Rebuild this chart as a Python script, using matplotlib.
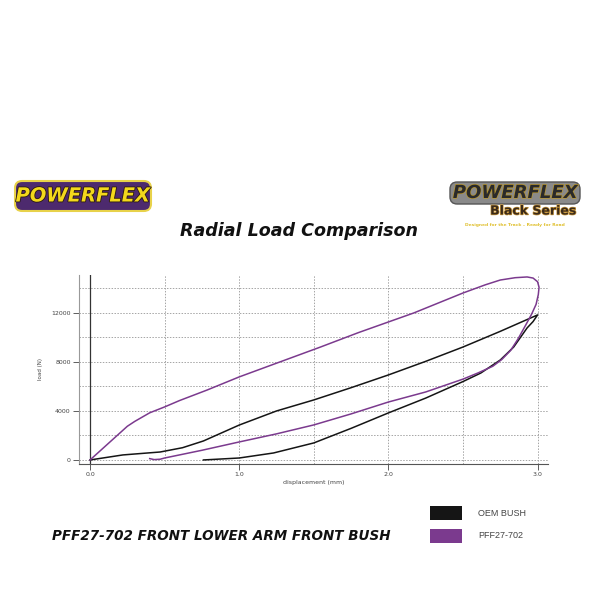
import matplotlib
matplotlib.use("Agg")
import matplotlib.pyplot as plt
import matplotlib.patheffects as pe
from matplotlib.patches import FancyBboxPatch, Rectangle

# ---- data ----
pff_x = [0.0, 0.1, 0.2, 0.25, 0.3, 0.35, 0.4, 0.5, 0.6, 0.785, 1.0, 1.25, 1.545, 1.8, 2.17, 2.5,
         2.65, 2.75, 2.85, 2.93, 2.97, 3.0, 3.01, 3.005, 2.99, 2.96, 2.92, 2.87, 2.82, 2.76, 2.7, 2.6,
         2.5, 2.25, 2.0, 1.75, 1.5, 1.25, 1.0, 0.75, 0.5, 0.47, 0.43, 0.40]
pff_y = [0, 1100, 2200, 2750, 3150, 3500, 3850, 4330, 4850, 5710, 6780, 7900, 9220, 10400, 12000, 13630,
         14300, 14690, 14880, 14940, 14850, 14550, 14100, 13500, 12700, 11900, 11000, 9900, 8950, 8200, 7650, 7100,
         6600, 5550, 4730, 3760, 2860, 2130, 1470, 790, 160, 60, 30, 110]

oem_x = [0.0, 0.22, 0.47, 0.62, 0.76, 1.0, 1.25, 1.5, 1.75, 2.0, 2.25, 2.5, 2.75, 3.0,
         2.97, 2.93, 2.84, 2.75, 2.62, 2.5, 2.25, 2.0, 1.75, 1.5, 1.23, 1.0, 0.76]
oem_y = [0, 410, 650, 1000, 1550, 2850, 4000, 4900, 5900, 6940, 8050, 9220, 10500, 11840,
         11300, 10780, 9220, 8160, 7100, 6400, 5050, 3840, 2580, 1390, 570, 160, 0]

series_labels = ["OEM BUSH", "PFF27-702"]
series_colors = ["#151515", "#7b3a8e"]
x_ticks = [0.0, 1.0, 2.0, 3.0]
x_tick_labels = ["0.0", "1.0", "2.0", "3.0"]
y_ticks = [0, 4000, 8000, 12000]

fig = plt.figure(figsize=(6, 6), dpi=100)
fig.patch.set_facecolor("white")

ax = fig.add_axes([79/600, 1-464/600, 469/600, 189/600])
ax.set_xlim(-0.074, 3.07)
ax.set_ylim(-330, 15100)

grid_kw = dict(color="#a5a5a5", lw=0.7, ls=(0, (1.5, 1.5)), zorder=1)
for gx in [0.5, 1.0, 1.5, 2.0, 2.5, 3.0]:
    ax.axvline(gx, **grid_kw)
for gy in range(0, 15000, 2000):
    ax.axhline(gy, **grid_kw)
ax.axvline(0, color="#333333", lw=0.9, zorder=2)

ax.plot(oem_x, oem_y, color=series_colors[0], lw=1.1, zorder=3, solid_joinstyle="round")
ax.plot(pff_x, pff_y, color=series_colors[1], lw=1.1, zorder=4, solid_joinstyle="round")

for s in ["top", "right"]:
    ax.spines[s].set_visible(False)
ax.spines["left"].set_color("#999999")
ax.spines["left"].set_linewidth(0.8)
ax.spines["bottom"].set_color("#555555")
ax.spines["bottom"].set_linewidth(0.8)

ax.set_xticks(x_ticks)
ax.set_xticklabels(x_tick_labels)
ax.set_yticks(y_ticks)
ax.set_yticklabels([str(v) for v in y_ticks])
ax.tick_params(axis="both", labelsize=4.5, colors="#444444", length=4, width=0.6, pad=2)
ax.set_ylabel("load (N)", fontsize=4, color="#444444", labelpad=6)
ax.set_xlabel("displacement (mm)", fontsize=4.5, color="#444444", labelpad=2)

# ---- titles and logos ----
fig.text(299/600, 1-231/600, "Radial Load Comparison", ha="center", va="center",
         fontsize=12.6, fontweight="heavy", fontstyle="italic", family="DejaVu Sans", color="#111111")

fig.text(52/600, 1-536/600, "PFF27-702 FRONT LOWER ARM FRONT BUSH", ha="left", va="center",
         fontsize=9.75, fontweight="heavy", fontstyle="italic", family="DejaVu Sans", color="#111111")

# left logo
fig.patches.append(FancyBboxPatch((15/600, 1-211/600), 136/600, 30/600,
                                  boxstyle="round,pad=0,rounding_size=0.012",
                                  transform=fig.transFigure, facecolor="#4d2a6e",
                                  edgecolor="#e8d24a", lw=1.5))
fig.text(83/600, 1-196/600, "POWERFLEX", ha="center", va="center", fontsize=14,
         fontweight="heavy", fontstyle="italic", family="DejaVu Sans", color="#f3d81c",
         path_effects=[pe.withStroke(linewidth=1.2, foreground="#2a1a10")])

# right logo
fig.patches.append(FancyBboxPatch((450/600, 1-204/600), 130/600, 22/600,
                                  boxstyle="round,pad=0,rounding_size=0.012",
                                  transform=fig.transFigure, facecolor="#8a8a8a",
                                  edgecolor="#555555", lw=1.0))
fig.text(515/600, 1-193/600, "POWERFLEX", ha="center", va="center", fontsize=13,
         fontweight="heavy", fontstyle="italic", family="DejaVu Sans", color="#2a2a2a",
         path_effects=[pe.withStroke(linewidth=1.0, foreground="#b8962e")])
fig.text(533/600, 1-211/600, "Black Series", ha="center", va="center", fontsize=9,
         fontweight="bold", family="DejaVu Sans", color="#3a2a1a",
         path_effects=[pe.withStroke(linewidth=1.0, foreground="#c9973a")])
fig.text(515/600, 1-225/600, "Designed for the Track \u2013 Ready for Road", ha="center", va="center",
         fontsize=3.2, fontweight="bold", family="DejaVu Sans", color="#e0c030")

# legend
for i, (lab, col) in enumerate(zip(series_labels, series_colors)):
    yc = 513 + i * 23
    fig.patches.append(Rectangle((430/600, 1-(yc+7)/600), 32/600, 14/600,
                                 transform=fig.transFigure, facecolor=col, edgecolor="none"))
    fig.text(478/600, 1-yc/600, lab, ha="left", va="center", fontsize=6.5,
             family="Liberation Sans", color="#444444")

fig.savefig("out.png", dpi=100, facecolor="white")
